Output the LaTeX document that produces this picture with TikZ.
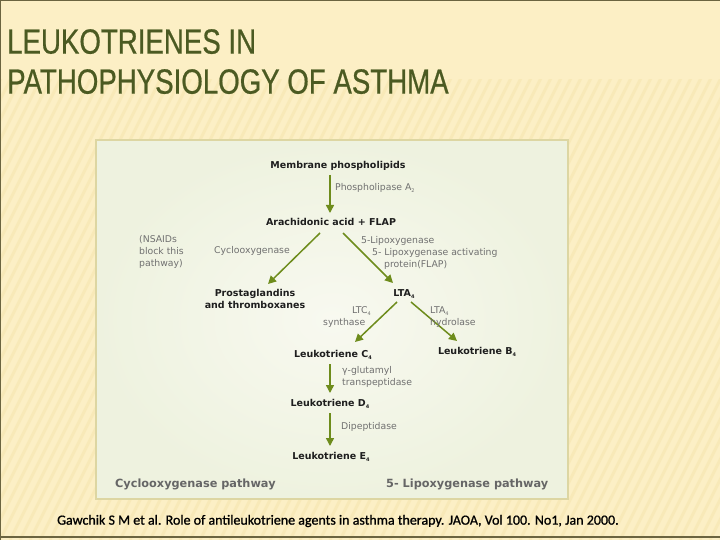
\documentclass[tikz,border=0pt]{standalone}
\usepackage{fontspec}
\setmainfont{DejaVu Sans}
\newfontfamily\titlefont[FakeStretch=0.79,FakeBold=0.6]{Liberation Sans}
\newfontfamily\citefont[FakeBold=1]{Carlito}
\usetikzlibrary{arrows.meta}
\definecolor{slidebg}{HTML}{FCEFC5}
\definecolor{stripe}{HTML}{F0D894}
\definecolor{titlecol}{HTML}{4B5A22}
\definecolor{boxfill}{HTML}{EEF2DF}
\definecolor{boxin}{HTML}{F8F9F0}
\definecolor{boxborder}{HTML}{DDD6A2}
\definecolor{arrowcol}{HTML}{6E8C1C}
\definecolor{labcol}{HTML}{1E1E1E}
\definecolor{enzcol}{HTML}{707070}
\definecolor{pathcol}{HTML}{666666}
\definecolor{edgecol}{HTML}{6B6440}
\newcommand\lsb[1]{\raisebox{-0.35ex}{\fontsize{5}{5}\selectfont #1}}
\tikzset{
  bl/.style={font=\fontsize{9.5}{12}\selectfont\bfseries, text=labcol, inner sep=0pt, align=center},
  enz/.style={font=\fontsize{9.3}{12}\selectfont, text=enzcol, inner sep=0pt, anchor=west, align=left},
  pathlab/.style={font=\fontsize{11.3}{13}\selectfont\bfseries, text=pathcol, inner sep=0pt, anchor=west},
  arr/.style={draw=arrowcol, line width=1.5pt, -{Triangle[length=8pt,width=8pt]}},
}
\begin{document}
\begin{tikzpicture}[x=1pt,y=-1pt]
\useasboundingbox (0,0) rectangle (720,540);
% slide background
\fill[slidebg] (0,0) rectangle (720,540);
\begin{scope}
\clip (0,80) rectangle (720,540);
\foreach \i in {-300,-290,...,720}{
  \draw[stripe, line width=3pt, opacity=0.25] (\i,540) -- (\i+270,0);
}
\end{scope}
\draw[edgecol, line width=1.5pt] (0,0.5) -- (720,0.5);
\draw[edgecol, line width=1.5pt] (0,537) -- (720,537);
\draw[edgecol, line width=1pt] (0.5,0) -- (0.5,540);
% title
\node[font=\titlefont\fontsize{35}{40}\selectfont, text=titlecol, anchor=north west, align=left, inner sep=0pt] (title) at (7,29)
  {LEUKOTRIENES IN\\PATHOPHYSIOLOGY OF ASTHMA};
% diagram panel
\shade[inner color=boxin, outer color=boxfill] (96,140) rectangle (568,499);
\draw[boxborder, line width=2pt] (96,140) rectangle (568,499);
% main nodes
\node[bl] (mp) at (338,166) {Membrane phospholipids};
\node[bl] (aa) at (331,222) {Arachidonic acid + FLAP};
\node[bl] (pg) at (255,299) {Prostaglandins\\and thromboxanes};
\node[bl] (lta) at (404,294) {LTA\lsb{4}};
\node[bl] (c4) at (333,355) {Leukotriene C\lsb{4}};
\node[bl] (b4) at (477,352) {Leukotriene B\lsb{4}};
\node[bl] (d4) at (330,404) {Leukotriene D\lsb{4}};
\node[bl] (e4) at (331,457) {Leukotriene E\lsb{4}};
% arrows
\draw[arr] ([shift={(-8,9)}]mp.center) -- ([shift={(-1,-9)}]aa.center);
\draw[arr] ([shift={(-11,11)}]aa.center) -- ([shift={(13,-15)}]pg.center);
\draw[arr] ([shift={(12,11)}]aa.center) -- ([shift={(-11,-11)}]lta.center);
\draw[arr] ([shift={(-7,8)}]lta.center) -- ([shift={(22,-13)}]c4.center);
\draw[arr] ([shift={(7,8)}]lta.center) -- ([shift={(-20,-11)}]b4.center);
\draw[arr] ([shift={(-3,9)}]c4.center) -- ([shift={(0,-11)}]d4.center);
\draw[arr] ([shift={(0,9)}]d4.center) -- ([shift={(-1,-11)}]e4.center);
% enzyme labels
\node[enz] (pla) at (335,188) {Phospholipase A\lsb{2}};
\node[enz] (nsaid) at (139,252) {(NSAIDs\\block this\\pathway)};
\node[enz] (cox) at (214,251) {Cyclooxygenase};
\node[enz] (lox) at (361,241) {5-Lipoxygenase};
\node[enz] (flap) at (372,259) {5- Lipoxygenase activating\\\hspace*{12pt}protein(FLAP)};
\node[enz, anchor=east] (ltcs) at (371,311) {LTC\lsb{4}};
\node[enz] (synth) at (323,323) {synthase};
\node[enz] (ltah) at (430,311) {LTA\lsb{4}};
\node[enz] (hydro) at (430,323) {hydrolase};
\node[enz] (ggt) at (342,377) {γ-glutamyl\\transpeptidase};
\node[enz] (dip) at (341,427) {Dipeptidase};
% pathway labels
\node[pathlab] (coxp) at (115,484) {Cyclooxygenase pathway};
\node[pathlab] (loxp) at (386,484) {5- Lipoxygenase pathway};
% citation
\node[font=\citefont\fontsize{14}{15}\selectfont, text=black, anchor=west, inner sep=0pt] (cite) at (57,521)
  {Gawchik S M et al. Role of antileukotriene agents in asthma therapy. JAOA, Vol 100. No1, Jan 2000.};
\end{tikzpicture}
\end{document}
